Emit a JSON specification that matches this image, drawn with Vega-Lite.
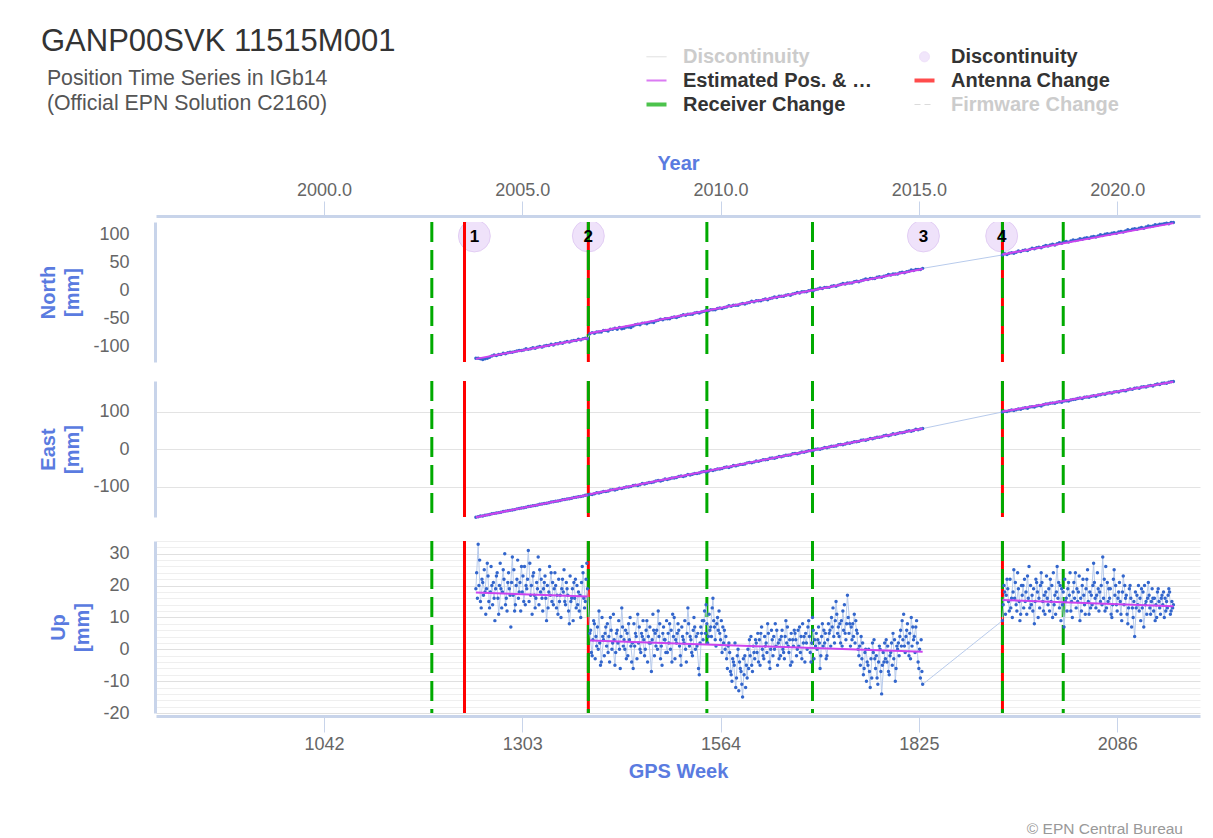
{
  "$schema": "https://vega.github.io/schema/vega-lite/v6.json",
  "autosize": {"type": "pad"},
  "padding": {"left": 38, "top": 25, "right": 13, "bottom": 2},
  "background": "white",
  "title": {
    "text": "GANP00SVK 11515M001",
    "subtitle": ["\u200b\u00a0Position Time Series in IGb14", "\u200b\u00a0(Official EPN Solution C2160)"],
    "anchor": "start", "frame": "bounds",
    "font": "Liberation Sans", "fontSize": 31, "fontWeight": "normal", "color": "#333333",
    "subtitleFont": "Liberation Sans", "subtitleFontSize": 21.3, "subtitleColor": "#555555",
    "subtitlePadding": 10, "subtitleLineHeight": 25,
    "offset": 0, "dx": 2, "dy": 69
  },
  "datasets": {
    "d": [
      {"w":1242,"n":-122,"e":-180,"u":19},{"w":1245,"n":-122,"e":-179,"u":33},{"w":1248,"n":-123,"e":-177,"u":15},{"w":1251,"n":-124,"e":-177,"u":21},{"w":1254,"n":-123,"e":-175,"u":18},
      {"w":1257,"n":-122,"e":-174,"u":27},{"w":1260,"n":-120,"e":-173,"u":13},{"w":1263,"n":-118,"e":-171,"u":20},{"w":1266,"n":-116,"e":-170,"u":16},{"w":1269,"n":-117,"e":-169,"u":23},
      {"w":1272,"n":-115,"e":-168,"u":11},{"w":1275,"n":-115,"e":-167,"u":19},{"w":1278,"n":-113,"e":-165,"u":25},{"w":1281,"n":-114,"e":-164,"u":14},{"w":1284,"n":-112,"e":-163,"u":21},
      {"w":1287,"n":-111,"e":-162,"u":17},{"w":1290,"n":-111,"e":-161,"u":29},{"w":1293,"n":-110,"e":-160,"u":12},{"w":1296,"n":-109,"e":-158,"u":22},{"w":1299,"n":-108,"e":-157,"u":18},
      {"w":1302,"n":-108,"e":-156,"u":26},{"w":1305,"n":-107,"e":-155,"u":15},{"w":1308,"n":-105,"e":-154,"u":20},{"w":1311,"n":-106,"e":-152,"u":31},{"w":1314,"n":-105,"e":-151,"u":17},
      {"w":1317,"n":-103,"e":-150,"u":23},{"w":1320,"n":-104,"e":-149,"u":13},{"w":1323,"n":-102,"e":-148,"u":19},{"w":1326,"n":-101,"e":-146,"u":25},{"w":1329,"n":-102,"e":-145,"u":16},
      {"w":1332,"n":-100,"e":-144,"u":21},{"w":1335,"n":-99,"e":-143,"u":9},{"w":1338,"n":-99,"e":-142,"u":18},{"w":1341,"n":-97,"e":-140,"u":24},{"w":1344,"n":-98,"e":-139,"u":14},
      {"w":1347,"n":-96,"e":-138,"u":20},{"w":1350,"n":-96,"e":-137,"u":11},{"w":1353,"n":-94,"e":-136,"u":17},{"w":1356,"n":-95,"e":-134,"u":22},{"w":1359,"n":-93,"e":-133,"u":15},
      {"w":1362,"n":-92,"e":-132,"u":19},{"w":1365,"n":-93,"e":-131,"u":8},{"w":1368,"n":-91,"e":-130,"u":16},{"w":1371,"n":-90,"e":-128,"u":21},{"w":1374,"n":-90,"e":-127,"u":13},
      {"w":1377,"n":-88,"e":-126,"u":18},{"w":1380,"n":-89,"e":-125,"u":10},{"w":1383,"n":-87,"e":-124,"u":24},{"w":1386,"n":-86,"e":-122,"u":15},{"w":1389,"n":-87,"e":-121,"u":19},
      {"w":1392,"n":-78,"e":-119,"u":5},{"w":1395,"n":-76,"e":-120,"u":-2},{"w":1398,"n":-77,"e":-118,"u":8},{"w":1401,"n":-75,"e":-115,"u":1},{"w":1404,"n":-75,"e":-116,"u":12},
      {"w":1407,"n":-75,"e":-114,"u":-4},{"w":1410,"n":-72,"e":-112,"u":3},{"w":1413,"n":-72,"e":-112,"u":7},{"w":1416,"n":-73,"e":-111,"u":-1},{"w":1419,"n":-70,"e":-108,"u":10},
      {"w":1422,"n":-70,"e":-107,"u":2},{"w":1425,"n":-68,"e":-108,"u":-5},{"w":1428,"n":-70,"e":-106,"u":6},{"w":1431,"n":-67,"e":-103,"u":0},{"w":1434,"n":-69,"e":-104,"u":13},
      {"w":1437,"n":-68,"e":-102,"u":3},{"w":1440,"n":-66,"e":-100,"u":-3},{"w":1443,"n":-66,"e":-100,"u":8},{"w":1446,"n":-67,"e":-99,"u":1},{"w":1449,"n":-64,"e":-96,"u":-6},
      {"w":1452,"n":-62,"e":-95,"u":5},{"w":1455,"n":-61,"e":-96,"u":11},{"w":1458,"n":-62,"e":-94,"u":0},{"w":1461,"n":-59,"e":-91,"u":4},{"w":1464,"n":-59,"e":-92,"u":-2},
      {"w":1467,"n":-60,"e":-90,"u":9},{"w":1470,"n":-58,"e":-88,"u":2},{"w":1473,"n":-57,"e":-88,"u":-7},{"w":1476,"n":-58,"e":-87,"u":6},{"w":1479,"n":-55,"e":-84,"u":1},
      {"w":1482,"n":-54,"e":-83,"u":12},{"w":1485,"n":-52,"e":-84,"u":-3},{"w":1488,"n":-53,"e":-82,"u":5},{"w":1491,"n":-51,"e":-79,"u":3},{"w":1494,"n":-51,"e":-80,"u":-1},
      {"w":1497,"n":-51,"e":-78,"u":8},{"w":1500,"n":-49,"e":-76,"u":-4},{"w":1503,"n":-48,"e":-76,"u":10},{"w":1506,"n":-49,"e":-75,"u":2},{"w":1509,"n":-47,"e":-72,"u":6},
      {"w":1512,"n":-46,"e":-71,"u":-5},{"w":1515,"n":-44,"e":-72,"u":3},{"w":1518,"n":-45,"e":-70,"u":0},{"w":1521,"n":-43,"e":-67,"u":13},{"w":1524,"n":-43,"e":-68,"u":4},
      {"w":1527,"n":-43,"e":-66,"u":-2},{"w":1530,"n":-41,"e":-64,"u":7},{"w":1533,"n":-40,"e":-64,"u":1},{"w":1536,"n":-41,"e":-63,"u":-8},{"w":1539,"n":-39,"e":-60,"u":5},
      {"w":1542,"n":-38,"e":-59,"u":9},{"w":1545,"n":-36,"e":-60,"u":14},{"w":1548,"n":-37,"e":-58,"u":4},{"w":1551,"n":-35,"e":-55,"u":7},{"w":1554,"n":-35,"e":-56,"u":16},
      {"w":1557,"n":-35,"e":-54,"u":3},{"w":1560,"n":-33,"e":-52,"u":10},{"w":1563,"n":-32,"e":-52,"u":5},{"w":1566,"n":-33,"e":-51,"u":-1},{"w":1569,"n":-31,"e":-48,"u":6},
      {"w":1572,"n":-30,"e":-47,"u":-3},{"w":1575,"n":-28,"e":-48,"u":2},{"w":1578,"n":-29,"e":-46,"u":-8},{"w":1581,"n":-27,"e":-43,"u":-4},{"w":1584,"n":-27,"e":-44,"u":-12},
      {"w":1587,"n":-27,"e":-42,"u":0},{"w":1590,"n":-25,"e":-40,"u":-6},{"w":1593,"n":-24,"e":-40,"u":-15},{"w":1596,"n":-25,"e":-39,"u":-2},{"w":1599,"n":-23,"e":-36,"u":-9},
      {"w":1602,"n":-22,"e":-35,"u":3},{"w":1605,"n":-20,"e":-36,"u":-5},{"w":1608,"n":-21,"e":-34,"u":-1},{"w":1611,"n":-19,"e":-31,"u":2},{"w":1614,"n":-19,"e":-32,"u":-4},
      {"w":1617,"n":-19,"e":-30,"u":5},{"w":1620,"n":-17,"e":-28,"u":-2},{"w":1623,"n":-16,"e":-28,"u":1},{"w":1626,"n":-17,"e":-27,"u":8},{"w":1629,"n":-15,"e":-24,"u":-6},
      {"w":1632,"n":-14,"e":-23,"u":3},{"w":1635,"n":-12,"e":-24,"u":0},{"w":1638,"n":-13,"e":-22,"u":6},{"w":1641,"n":-11,"e":-19,"u":-3},{"w":1644,"n":-11,"e":-20,"u":4},
      {"w":1647,"n":-11,"e":-18,"u":-1},{"w":1650,"n":-9,"e":-16,"u":9},{"w":1653,"n":-8,"e":-16,"u":1},{"w":1656,"n":-9,"e":-15,"u":-5},{"w":1659,"n":-7,"e":-12,"u":3},
      {"w":1662,"n":-6,"e":-11,"u":5},{"w":1665,"n":-4,"e":-12,"u":0},{"w":1668,"n":-5,"e":-10,"u":7},{"w":1671,"n":-3,"e":-7,"u":-3},{"w":1674,"n":-3,"e":-8,"u":4},
      {"w":1677,"n":-3,"e":-6,"u":2},{"w":1680,"n":-1,"e":-4,"u":9},{"w":1683,"n":0,"e":-4,"u":-4},{"w":1686,"n":-1,"e":-3,"u":6},{"w":1689,"n":1,"e":0,"u":1},
      {"w":1692,"n":2,"e":1,"u":3},{"w":1695,"n":4,"e":0,"u":-6},{"w":1698,"n":3,"e":2,"u":8},{"w":1701,"n":5,"e":5,"u":2},{"w":1704,"n":5,"e":4,"u":-2},
      {"w":1707,"n":5,"e":6,"u":5},{"w":1710,"n":7,"e":8,"u":10},{"w":1713,"n":8,"e":8,"u":4},{"w":1716,"n":7,"e":9,"u":15},{"w":1719,"n":9,"e":12,"u":7},
      {"w":1722,"n":10,"e":13,"u":2},{"w":1725,"n":12,"e":12,"u":12},{"w":1728,"n":11,"e":14,"u":5},{"w":1731,"n":13,"e":17,"u":17},{"w":1734,"n":13,"e":16,"u":8},
      {"w":1737,"n":13,"e":18,"u":3},{"w":1740,"n":15,"e":20,"u":11},{"w":1743,"n":16,"e":20,"u":6},{"w":1746,"n":15,"e":21,"u":-2},{"w":1749,"n":17,"e":24,"u":4},
      {"w":1752,"n":18,"e":25,"u":-8},{"w":1755,"n":20,"e":24,"u":0},{"w":1758,"n":19,"e":26,"u":-5},{"w":1761,"n":21,"e":29,"u":-12},{"w":1764,"n":21,"e":28,"u":2},
      {"w":1767,"n":21,"e":30,"u":-3},{"w":1770,"n":23,"e":32,"u":-9},{"w":1773,"n":24,"e":32,"u":1},{"w":1776,"n":23,"e":33,"u":-14},{"w":1779,"n":25,"e":36,"u":-4},
      {"w":1782,"n":26,"e":37,"u":3},{"w":1785,"n":28,"e":36,"u":-7},{"w":1788,"n":27,"e":38,"u":-1},{"w":1791,"n":29,"e":41,"u":5},{"w":1794,"n":29,"e":40,"u":-10},
      {"w":1797,"n":29,"e":42,"u":0},{"w":1800,"n":31,"e":44,"u":4},{"w":1803,"n":32,"e":44,"u":9},{"w":1806,"n":31,"e":45,"u":1},{"w":1809,"n":33,"e":48,"u":6},
      {"w":1812,"n":34,"e":49,"u":-2},{"w":1815,"n":36,"e":48,"u":10},{"w":1818,"n":35,"e":50,"u":3},{"w":1821,"n":37,"e":53,"u":7},{"w":1824,"n":37,"e":52,"u":-4},
      {"w":1827,"n":37,"e":54,"u":-9},{"w":1830,"n":39,"e":55,"u":-11},
      {"w":1935,"n":63,"e":99,"u":9},{"w":1938,"n":65,"e":101,"u":18},{"w":1941,"n":64,"e":100,"u":22},{"w":1944,"n":66,"e":102,"u":12},{"w":1947,"n":67,"e":104,"u":16},
      {"w":1950,"n":66,"e":103,"u":25},{"w":1953,"n":68,"e":105,"u":14},{"w":1956,"n":70,"e":107,"u":19},{"w":1959,"n":69,"e":106,"u":11},{"w":1962,"n":71,"e":109,"u":20},
      {"w":1965,"n":72,"e":110,"u":15},{"w":1968,"n":71,"e":109,"u":23},{"w":1971,"n":73,"e":112,"u":13},{"w":1974,"n":75,"e":113,"u":17},{"w":1977,"n":74,"e":112,"u":8},
      {"w":1980,"n":76,"e":115,"u":21},{"w":1983,"n":77,"e":116,"u":16},{"w":1986,"n":76,"e":115,"u":24},{"w":1989,"n":78,"e":118,"u":12},{"w":1992,"n":80,"e":120,"u":18},
      {"w":1995,"n":79,"e":120,"u":14},{"w":1998,"n":81,"e":122,"u":22},{"w":2001,"n":82,"e":123,"u":10},{"w":2004,"n":81,"e":122,"u":17},{"w":2007,"n":83,"e":125,"u":26},
      {"w":2010,"n":85,"e":126,"u":13},{"w":2013,"n":84,"e":125,"u":19},{"w":2016,"n":86,"e":128,"u":7},{"w":2019,"n":87,"e":129,"u":16},{"w":2022,"n":86,"e":128,"u":21},
      {"w":2025,"n":88,"e":131,"u":12},{"w":2028,"n":90,"e":132,"u":18},{"w":2031,"n":89,"e":133,"u":24},{"w":2034,"n":90,"e":135,"u":15},{"w":2037,"n":92,"e":136,"u":9},
      {"w":2040,"n":91,"e":135,"u":20},{"w":2043,"n":93,"e":138,"u":14},{"w":2046,"n":94,"e":139,"u":22},{"w":2049,"n":93,"e":138,"u":11},{"w":2052,"n":95,"e":141,"u":17},
      {"w":2055,"n":96,"e":142,"u":27},{"w":2058,"n":95,"e":141,"u":13},{"w":2061,"n":97,"e":144,"u":19},{"w":2064,"n":99,"e":145,"u":15},{"w":2067,"n":98,"e":147,"u":29},
      {"w":2070,"n":100,"e":146,"u":12},{"w":2073,"n":101,"e":149,"u":21},{"w":2076,"n":100,"e":150,"u":16},{"w":2079,"n":102,"e":149,"u":10},{"w":2082,"n":103,"e":152,"u":25},
      {"w":2085,"n":102,"e":153,"u":14},{"w":2088,"n":104,"e":152,"u":18},{"w":2091,"n":105,"e":155,"u":11},{"w":2094,"n":104,"e":156,"u":23},{"w":2097,"n":106,"e":155,"u":16},
      {"w":2100,"n":108,"e":158,"u":8},{"w":2103,"n":107,"e":160,"u":20},{"w":2106,"n":109,"e":159,"u":13},{"w":2109,"n":110,"e":162,"u":4},{"w":2112,"n":109,"e":163,"u":17},
      {"w":2115,"n":111,"e":162,"u":12},{"w":2118,"n":112,"e":165,"u":19},{"w":2121,"n":111,"e":166,"u":7},{"w":2124,"n":113,"e":165,"u":15},{"w":2127,"n":115,"e":168,"u":21},
      {"w":2130,"n":114,"e":169,"u":11},{"w":2133,"n":115,"e":168,"u":16},{"w":2136,"n":117,"e":171,"u":9},{"w":2139,"n":116,"e":173,"u":18},{"w":2142,"n":118,"e":172,"u":13},
      {"w":2145,"n":118,"e":175,"u":17},{"w":2148,"n":119,"e":176,"u":10},{"w":2151,"n":120,"e":175,"u":15},{"w":2154,"n":119,"e":178,"u":19},{"w":2157,"n":121,"e":179,"u":12},
      {"w":2160,"n":121,"e":180,"u":14}
    ],
    "u2": [
      {"w":1243,"u":24},{"w":1244,"u":16},{"w":1246,"u":20},{"w":1247,"u":28},{"w":1249,"u":13},{"w":1250,"u":22},{"w":1252,"u":17},{"w":1253,"u":25},{"w":1255,"u":11},{"w":1256,"u":19},
      {"w":1258,"u":23},{"w":1259,"u":15},{"w":1261,"u":18},{"w":1262,"u":26},{"w":1264,"u":14},{"w":1265,"u":21},{"w":1267,"u":9},{"w":1268,"u":19},{"w":1270,"u":24},{"w":1271,"u":16},
      {"w":1273,"u":20},{"w":1274,"u":27},{"w":1276,"u":13},{"w":1277,"u":18},{"w":1279,"u":22},{"w":1280,"u":30},{"w":1282,"u":16},{"w":1283,"u":12},{"w":1285,"u":24},{"w":1286,"u":19},
      {"w":1288,"u":7},{"w":1289,"u":21},{"w":1291,"u":17},{"w":1292,"u":25},{"w":1294,"u":14},{"w":1295,"u":20},{"w":1297,"u":28},{"w":1298,"u":16},{"w":1300,"u":21},{"w":1301,"u":12},
      {"w":1303,"u":18},{"w":1304,"u":23},{"w":1306,"u":26},{"w":1307,"u":14},{"w":1309,"u":19},{"w":1310,"u":22},{"w":1312,"u":15},{"w":1313,"u":27},{"w":1315,"u":20},{"w":1316,"u":11},
      {"w":1318,"u":24},{"w":1319,"u":17},{"w":1321,"u":16},{"w":1322,"u":21},{"w":1324,"u":29},{"w":1325,"u":14},{"w":1327,"u":18},{"w":1328,"u":22},{"w":1330,"u":12},{"w":1331,"u":19},
      {"w":1333,"u":23},{"w":1334,"u":16},{"w":1336,"u":20},{"w":1337,"u":13},{"w":1339,"u":26},{"w":1340,"u":17},{"w":1342,"u":15},{"w":1343,"u":21},{"w":1345,"u":19},{"w":1346,"u":24},
      {"w":1348,"u":13},{"w":1349,"u":17},{"w":1351,"u":22},{"w":1352,"u":15},{"w":1354,"u":10},{"w":1355,"u":19},{"w":1357,"u":18},{"w":1358,"u":25},{"w":1360,"u":14},{"w":1361,"u":21},
      {"w":1363,"u":17},{"w":1364,"u":12},{"w":1366,"u":23},{"w":1367,"u":15},{"w":1369,"u":19},{"w":1370,"u":9},{"w":1372,"u":16},{"w":1373,"u":22},{"w":1375,"u":20},{"w":1376,"u":14},
      {"w":1378,"u":12},{"w":1379,"u":17},{"w":1381,"u":21},{"w":1382,"u":26},{"w":1384,"u":16},{"w":1385,"u":13},{"w":1387,"u":22},{"w":1388,"u":27},
      {"w":1393,"u":6},{"w":1394,"u":-1},{"w":1396,"u":3},{"w":1397,"u":9},{"w":1399,"u":-3},{"w":1400,"u":4},{"w":1402,"u":7},{"w":1403,"u":0},{"w":1405,"u":2},{"w":1406,"u":-5},
      {"w":1408,"u":10},{"w":1409,"u":4},{"w":1411,"u":-2},{"w":1412,"u":5},{"w":1414,"u":1},{"w":1415,"u":8},{"w":1417,"u":4},{"w":1418,"u":-4},{"w":1420,"u":6},{"w":1421,"u":0},
      {"w":1423,"u":11},{"w":1424,"u":3},{"w":1426,"u":-1},{"w":1427,"u":5},{"w":1429,"u":2},{"w":1430,"u":9},{"w":1432,"u":-6},{"w":1433,"u":4},{"w":1435,"u":7},{"w":1436,"u":1},
      {"w":1438,"u":0},{"w":1439,"u":6},{"w":1441,"u":5},{"w":1442,"u":-2},{"w":1444,"u":3},{"w":1445,"u":10},{"w":1447,"u":-4},{"w":1448,"u":2},{"w":1450,"u":8},{"w":1451,"u":1},
      {"w":1453,"u":4},{"w":1454,"u":-3},{"w":1456,"u":2},{"w":1457,"u":7},{"w":1459,"u":-1},{"w":1460,"u":5},{"w":1462,"u":9},{"w":1463,"u":3},{"w":1465,"u":0},{"w":1466,"u":6},
      {"w":1468,"u":-4},{"w":1469,"u":4},{"w":1471,"u":7},{"w":1472,"u":2},{"w":1474,"u":3},{"w":1475,"u":11},{"w":1477,"u":-2},{"w":1478,"u":5},{"w":1480,"u":6},{"w":1481,"u":0},
      {"w":1483,"u":4},{"w":1484,"u":8},{"w":1486,"u":1},{"w":1487,"u":-5},{"w":1489,"u":7},{"w":1490,"u":3},{"w":1492,"u":-1},{"w":1493,"u":9},{"w":1495,"u":5},{"w":1496,"u":2},
      {"w":1498,"u":0},{"w":1499,"u":6},{"w":1501,"u":11},{"w":1502,"u":4},{"w":1504,"u":-3},{"w":1505,"u":3},{"w":1507,"u":5},{"w":1508,"u":8},{"w":1510,"u":1},{"w":1511,"u":-2},
      {"w":1513,"u":7},{"w":1514,"u":4},{"w":1516,"u":2},{"w":1517,"u":9},{"w":1519,"u":-4},{"w":1520,"u":5},{"w":1522,"u":8},{"w":1523,"u":1},{"w":1525,"u":3},{"w":1526,"u":-1},
      {"w":1528,"u":6},{"w":1529,"u":10},{"w":1531,"u":0},{"w":1532,"u":4},{"w":1534,"u":5},{"w":1535,"u":-6},{"w":1537,"u":2},{"w":1538,"u":7},{"w":1540,"u":9},{"w":1541,"u":3},
      {"w":1543,"u":12},{"w":1544,"u":5},{"w":1546,"u":8},{"w":1547,"u":2},{"w":1549,"u":11},{"w":1550,"u":6},{"w":1552,"u":4},{"w":1553,"u":13},{"w":1555,"u":9},{"w":1556,"u":7},
      {"w":1558,"u":1},{"w":1559,"u":8},{"w":1561,"u":6},{"w":1562,"u":12},{"w":1564,"u":3},{"w":1565,"u":9},{"w":1567,"u":7},{"w":1568,"u":2},{"w":1570,"u":0},{"w":1571,"u":4},
      {"w":1573,"u":-6},{"w":1574,"u":1},{"w":1576,"u":-1},{"w":1577,"u":-7},{"w":1579,"u":-10},{"w":1580,"u":-3},{"w":1582,"u":-5},{"w":1583,"u":2},{"w":1585,"u":-9},{"w":1586,"u":-2},
      {"w":1588,"u":-13},{"w":1589,"u":-4},{"w":1591,"u":-7},{"w":1592,"u":-11},{"w":1594,"u":-3},{"w":1595,"u":-8},{"w":1597,"u":-12},{"w":1598,"u":-5},{"w":1600,"u":0},{"w":1601,"u":-6},
      {"w":1603,"u":-2},{"w":1604,"u":4},{"w":1606,"u":-7},{"w":1607,"u":1},{"w":1609,"u":-3},{"w":1610,"u":3},{"w":1612,"u":-1},{"w":1613,"u":5},{"w":1615,"u":3},{"w":1616,"u":-5},
      {"w":1618,"u":7},{"w":1619,"u":0},{"w":1621,"u":-3},{"w":1622,"u":4},{"w":1624,"u":2},{"w":1625,"u":-1},{"w":1627,"u":5},{"w":1628,"u":-4},{"w":1630,"u":0},{"w":1631,"u":6},
      {"w":1633,"u":-2},{"w":1634,"u":4},{"w":1636,"u":8},{"w":1637,"u":1},{"w":1639,"u":-5},{"w":1640,"u":2},{"w":1642,"u":3},{"w":1643,"u":-2},{"w":1645,"u":6},{"w":1646,"u":0},
      {"w":1648,"u":-3},{"w":1649,"u":4},{"w":1651,"u":2},{"w":1652,"u":7},{"w":1654,"u":-1},{"w":1655,"u":3},{"w":1657,"u":5},{"w":1658,"u":-4},{"w":1660,"u":1},{"w":1661,"u":6},
      {"w":1663,"u":3},{"w":1664,"u":-2},{"w":1666,"u":6},{"w":1667,"u":1},{"w":1669,"u":-1},{"w":1670,"u":4},{"w":1672,"u":8},{"w":1673,"u":2},{"w":1675,"u":-4},{"w":1676,"u":5},
      {"w":1678,"u":0},{"w":1679,"u":7},{"w":1681,"u":4},{"w":1682,"u":-1},{"w":1684,"u":2},{"w":1685,"u":10},{"w":1687,"u":-3},{"w":1688,"u":3},{"w":1690,"u":5},{"w":1691,"u":0},
      {"w":1693,"u":7},{"w":1694,"u":2},{"w":1696,"u":-2},{"w":1697,"u":4},{"w":1699,"u":1},{"w":1700,"u":6},{"w":1702,"u":5},{"w":1703,"u":-3},{"w":1705,"u":3},{"w":1706,"u":8},
      {"w":1708,"u":6},{"w":1709,"u":1},{"w":1711,"u":7},{"w":1712,"u":13},{"w":1714,"u":2},{"w":1715,"u":9},{"w":1717,"u":11},{"w":1718,"u":5},{"w":1720,"u":4},{"w":1721,"u":8},
      {"w":1723,"u":9},{"w":1724,"u":1},{"w":1726,"u":6},{"w":1727,"u":14},{"w":1729,"u":3},{"w":1730,"u":8},{"w":1732,"u":10},{"w":1733,"u":5},{"w":1735,"u":1},{"w":1736,"u":7},
      {"w":1738,"u":8},{"w":1739,"u":4},{"w":1741,"u":2},{"w":1742,"u":9},{"w":1744,"u":5},{"w":1745,"u":0},{"w":1747,"u":1},{"w":1748,"u":-5},{"w":1750,"u":-3},{"w":1751,"u":2},
      {"w":1753,"u":-6},{"w":1754,"u":-1},{"w":1756,"u":-10},{"w":1757,"u":-4},{"w":1759,"u":0},{"w":1760,"u":-7},{"w":1762,"u":-3},{"w":1763,"u":-9},{"w":1765,"u":-1},{"w":1766,"u":3},
      {"w":1768,"u":-6},{"w":1769,"u":-2},{"w":1771,"u":-11},{"w":1772,"u":-4},{"w":1774,"u":0},{"w":1775,"u":-7},{"w":1777,"u":-5},{"w":1778,"u":-1},{"w":1780,"u":2},{"w":1781,"u":-3},
      {"w":1783,"u":-4},{"w":1784,"u":1},{"w":1786,"u":-8},{"w":1787,"u":-2},{"w":1789,"u":2},{"w":1790,"u":-5},{"w":1792,"u":-3},{"w":1793,"u":3},{"w":1795,"u":-6},{"w":1796,"u":1},
      {"w":1798,"u":2},{"w":1799,"u":-2},{"w":1801,"u":6},{"w":1802,"u":1},{"w":1804,"u":3},{"w":1805,"u":11},{"w":1807,"u":-1},{"w":1808,"u":4},{"w":1810,"u":8},{"w":1811,"u":2},
      {"w":1813,"u":5},{"w":1814,"u":-3},{"w":1816,"u":1},{"w":1817,"u":7},{"w":1819,"u":4},{"w":1820,"u":-1},{"w":1822,"u":9},{"w":1823,"u":2},{"w":1825,"u":-6},{"w":1826,"u":0},
      {"w":1828,"u":3},{"w":1829,"u":-7},
      {"w":1936,"u":14},{"w":1937,"u":20},{"w":1939,"u":11},{"w":1940,"u":17},{"w":1942,"u":19},{"w":1943,"u":15},{"w":1945,"u":22},{"w":1946,"u":13},{"w":1948,"u":10},{"w":1949,"u":18},
      {"w":1951,"u":16},{"w":1952,"u":21},{"w":1954,"u":12},{"w":1955,"u":24},{"w":1957,"u":15},{"w":1958,"u":9},{"w":1960,"u":20},{"w":1961,"u":17},{"w":1963,"u":13},{"w":1964,"u":22},
      {"w":1966,"u":18},{"w":1967,"u":11},{"w":1969,"u":16},{"w":1970,"u":26},{"w":1972,"u":20},{"w":1973,"u":14},{"w":1975,"u":12},{"w":1976,"u":19},{"w":1978,"u":15},{"w":1979,"u":22},
      {"w":1981,"u":18},{"w":1982,"u":10},{"w":1984,"u":13},{"w":1985,"u":20},{"w":1987,"u":21},{"w":1988,"u":15},{"w":1990,"u":17},{"w":1991,"u":11},{"w":1993,"u":23},{"w":1994,"u":16},
      {"w":1996,"u":19},{"w":1997,"u":12},{"w":1999,"u":15},{"w":2000,"u":20},{"w":2002,"u":24},{"w":2003,"u":14},{"w":2005,"u":11},{"w":2006,"u":18},{"w":2008,"u":16},{"w":2009,"u":21},
      {"w":2011,"u":20},{"w":2012,"u":9},{"w":2014,"u":14},{"w":2015,"u":18},{"w":2017,"u":22},{"w":2018,"u":15},{"w":2020,"u":12},{"w":2021,"u":19},{"w":2023,"u":17},{"w":2024,"u":24},
      {"w":2026,"u":15},{"w":2027,"u":10},{"w":2029,"u":21},{"w":2030,"u":16},{"w":2032,"u":13},{"w":2033,"u":19},{"w":2035,"u":18},{"w":2036,"u":23},{"w":2038,"u":16},{"w":2039,"u":12},
      {"w":2041,"u":22},{"w":2042,"u":17},{"w":2044,"u":11},{"w":2045,"u":19},{"w":2047,"u":25},{"w":2048,"u":15},{"w":2050,"u":18},{"w":2051,"u":13},{"w":2053,"u":14},{"w":2054,"u":20},
      {"w":2056,"u":21},{"w":2057,"u":16},{"w":2059,"u":17},{"w":2060,"u":24},{"w":2062,"u":12},{"w":2063,"u":18},{"w":2065,"u":20},{"w":2066,"u":14},{"w":2068,"u":16},{"w":2069,"u":22},
      {"w":2071,"u":26},{"w":2072,"u":13},{"w":2074,"u":15},{"w":2075,"u":19},{"w":2077,"u":19},{"w":2078,"u":11},{"w":2080,"u":14},{"w":2081,"u":22},{"w":2083,"u":17},{"w":2084,"u":20},
      {"w":2086,"u":12},{"w":2087,"u":16},{"w":2089,"u":21},{"w":2090,"u":15},{"w":2092,"u":9},{"w":2093,"u":18},{"w":2095,"u":14},{"w":2096,"u":20},{"w":2098,"u":17},{"w":2099,"u":11},
      {"w":2101,"u":13},{"w":2102,"u":19},{"w":2104,"u":16},{"w":2105,"u":7},{"w":2107,"u":10},{"w":2108,"u":15},{"w":2110,"u":18},{"w":2111,"u":13},{"w":2113,"u":14},{"w":2114,"u":20},
      {"w":2116,"u":16},{"w":2117,"u":9},{"w":2119,"u":13},{"w":2120,"u":18},{"w":2122,"u":20},{"w":2123,"u":14},{"w":2125,"u":11},{"w":2126,"u":16},{"w":2128,"u":17},{"w":2129,"u":13},
      {"w":2131,"u":15},{"w":2132,"u":19},{"w":2134,"u":12},{"w":2135,"u":16},{"w":2137,"u":14},{"w":2138,"u":10},{"w":2140,"u":19},{"w":2141,"u":15},{"w":2143,"u":11},{"w":2144,"u":16},
      {"w":2146,"u":14},{"w":2147,"u":18},{"w":2149,"u":16},{"w":2150,"u":12},{"w":2152,"u":13},{"w":2153,"u":17},{"w":2155,"u":18},{"w":2156,"u":11},{"w":2158,"u":15},{"w":2159,"u":13}
    ],
    "fit": [
      {"s":1,"w":1242,"n":-123,"e":-180,"u":17.8},{"s":1,"w":1389,"n":-86,"e":-121,"u":16.6},
      {"s":2,"w":1392,"n":-77,"e":-119,"u":2.8},{"s":2,"w":1830,"n":38,"e":55,"u":-0.8},
      {"s":3,"w":1935,"n":64,"e":100,"u":15.5},{"s":3,"w":2160,"n":120,"e":179,"u":13.5}
    ],
    "chg": [
      {"w":1184,"t":"R"},{"w":1227,"t":"A"},{"w":1390,"t":"A"},{"w":1390,"t":"R"},{"w":1546,"t":"R"},
      {"w":1685,"t":"R"},{"w":1935,"t":"A"},{"w":1935,"t":"R"},{"w":2015,"t":"R"}
    ],
    "disc": [
      {"w":1240,"lab":"1"},{"w":1390,"lab":"2"},{"w":1831,"lab":"3"},{"w":1934,"lab":"4"}
    ],
    "leg": [{"k":"L1"},{"k":"L2"},{"k":"L3"},{"k":"L4"},{"k":"L5"},{"k":"L6"}]
  },
  "spacing": 10,
  "resolve": {
    "scale": {"x": "independent", "y": "independent", "color": "independent"},
    "axis": {"x": "independent", "y": "independent"},
    "legend": {"color": "independent"}
  },
  "vconcat": [
    {
      "width": 1044, "height": 140,
      "encoding": {
        "x": {"field": "w", "type": "quantitative", "scale": {"domain": [821, 2195], "nice": false, "zero": false},
          "axis": {"orient": "top", "values": [1042, 1303, 1564, 1825, 2086], "tickCount": 50, "labelExpr": "format(2000 + (datum.value - 1042) / 52.2, '.1f')", "title": "Year", "grid": false, "offset": 6, "tickSize": 15, "labelPadding": 2, "titlePadding": 8, "labelFlush": false}}
      },
      "layer": [
        {"data": {"name": "disc"}, "mark": {"type": "point", "filled": true, "size": 1018, "fill": "#ecdcfa", "stroke": "#dcc2f2", "strokeWidth": 1, "opacity": 0.8, "clip": true},
          "encoding": {"y": {"datum": 97, "type": "quantitative", "scale": {"domain": [-128.6, 122], "nice": false, "zero": false}, "title": ["North", "[mm]"]}}},
        {"data": {"name": "chg"}, "transform": [{"filter": "datum.t === 'A'"}], "mark": {"type": "rule", "color": "#ff0000", "strokeWidth": 3}, "encoding": {}},
        {"data": {"name": "chg"}, "transform": [{"filter": "datum.t === 'R'"}], "mark": {"type": "rule", "color": "#00aa00", "strokeWidth": 3, "strokeDash": [20, 8]}, "encoding": {}},
        {"data": {"name": "d"}, "mark": {"type": "line", "color": "#b8cbec", "strokeWidth": 1},
          "encoding": {"y": {"field": "n", "type": "quantitative", "scale": {"domain": [-128.6, 122], "nice": false, "zero": false}, "title": ["North", "[mm]"],
            "axis": {"values": [-120,-110,-100,-90,-80,-70,-60,-50,-40,-30,-20,-10,0,10,20,30,40,50,60,70,80,90,100,110,120], "tickCount": 100, "labelExpr": "datum.value % 50 === 0 ? '' + datum.value : ''", "labelOverlap": false,
              "gridColor": {"condition": {"test": "datum.value % 50 === 0", "value": "#e0e0e0"}, "value": "#efefef"},
              "ticks": false, "labelPadding": 26, "titlePadding": 10, "offset": 1, "titleLineHeight": 24}}}},
        {"data": {"name": "d"}, "mark": {"type": "point", "filled": true, "size": 12, "color": "#3366cc", "opacity": 1},
          "encoding": {"y": {"field": "n", "type": "quantitative", "scale": {"domain": [-128.6, 122], "nice": false, "zero": false}, "title": ["North", "[mm]"]}}},
        {"data": {"name": "fit"}, "mark": {"type": "line", "color": "#cc44ee", "strokeWidth": 2},
          "encoding": {"y": {"field": "n", "type": "quantitative", "scale": {"domain": [-128.6, 122], "nice": false, "zero": false}, "title": ["North", "[mm]"]}, "detail": {"field": "s"}}},
        {"data": {"name": "disc"}, "mark": {"type": "text", "fontSize": 17, "fontWeight": "bold", "color": "#000000", "font": "Liberation Sans", "dy": 1},
          "encoding": {"y": {"datum": 97, "type": "quantitative", "scale": {"domain": [-128.6, 122], "nice": false, "zero": false}, "title": ["North", "[mm]"]}, "text": {"field": "lab"}}},
        {"data": {"name": "leg"}, "transform": [{"filter": "false"}], "mark": {"type": "point"},
          "encoding": {"color": {"field": "k", "type": "nominal",
            "scale": {"domain": ["L1","L3","L5","L2","L4","L6"], "range": ["#cccccc","#cc44ee","#00aa00","#e8d3f8","#ff0000","#cccccc"]},
            "legend": {"title": null, "orient": "none", "legendX": 490, "legendY": -176, "columns": 2, "columnPadding": 34, "rowPadding": 3,
              "symbolType": "stroke", "symbolSize": 400, "symbolStrokeWidth": 3, "labelFontSize": 20, "labelFont": "Liberation Sans", "labelFontWeight": "bold",
              "labelColor": "#333333", "labelOffset": 16, "labelLimit": 300, "padding": 0,
              "labelExpr": "datum.value === 'L1' || datum.value === 'L2' ? 'Discontinuity' : datum.value === 'L3' ? 'Estimated Pos. & …' : datum.value === 'L4' ? 'Antenna Change' : datum.value === 'L5' ? 'Receiver Change' : 'Firmware Change'",
              "encoding": {
                "symbols": {
                  "shape": {"condition": {"test": "datum.value === 'L2'", "value": "M-0.5,0A0.5,0.5,0,1,1,0.5,0A0.5,0.5,0,1,1,-0.5,0Z"}, "value": "stroke"},
                  "strokeWidth": {"value": {"expr": "(datum.value === 'L3' ? 2 : (datum.value === 'L4' || datum.value === 'L5') ? 4 : 1)"}},
                  "strokeDash": {"condition": {"test": "datum.value === 'L6'", "value": [6, 4]}, "value": [1, 0]},
                  "fill": {"condition": {"test": "datum.value === 'L2'", "value": "#ecdcfa"}, "value": "transparent"},
                  "stroke": {"condition": [{"test": "datum.value === 'L2'", "value": "#dcc2f2"}, {"test": "datum.value === 'L3'", "value": "#cc44ee"}, {"test": "datum.value === 'L4'", "value": "#ff0000"}, {"test": "datum.value === 'L5'", "value": "#00aa00"}], "value": "#cccccc"}
                },
                "labels": {"fill": {"condition": {"test": "datum.value === 'L1' || datum.value === 'L6'", "value": "#cccccc"}, "value": "#333333"}}
              }}}}}
      ]
    },
    {
      "width": 1044, "height": 136,
      "encoding": {
        "x": {"field": "w", "type": "quantitative", "scale": {"domain": [821, 2195], "nice": false, "zero": false}, "axis": null}
      },
      "layer": [
        {"data": {"name": "chg"}, "transform": [{"filter": "datum.t === 'A'"}], "mark": {"type": "rule", "color": "#ff0000", "strokeWidth": 3}, "encoding": {}},
        {"data": {"name": "chg"}, "transform": [{"filter": "datum.t === 'R'"}], "mark": {"type": "rule", "color": "#00aa00", "strokeWidth": 3, "strokeDash": [20, 8]}, "encoding": {}},
        {"data": {"name": "d"}, "mark": {"type": "line", "color": "#b8cbec", "strokeWidth": 1},
          "encoding": {"y": {"field": "e", "type": "quantitative", "scale": {"domain": [-179.6, 181.2], "nice": false, "zero": false}, "title": ["East", "[mm]"],
            "axis": {"values": [-100, 0, 100], "tickCount": 100, "labelExpr": "'' + datum.value", "gridColor": "#e3e3e3", "ticks": false, "labelPadding": 26, "titlePadding": 10, "offset": 1, "titleLineHeight": 24}}}},
        {"data": {"name": "d"}, "mark": {"type": "point", "filled": true, "size": 12, "color": "#3366cc", "opacity": 1},
          "encoding": {"y": {"field": "e", "type": "quantitative", "scale": {"domain": [-179.6, 181.2], "nice": false, "zero": false}, "title": ["East", "[mm]"]}}},
        {"data": {"name": "fit"}, "mark": {"type": "line", "color": "#cc44ee", "strokeWidth": 2},
          "encoding": {"y": {"field": "e", "type": "quantitative", "scale": {"domain": [-179.6, 181.2], "nice": false, "zero": false}, "title": ["East", "[mm]"]}, "detail": {"field": "s"}}}
      ]
    },
    {
      "width": 1044, "height": 172,
      "title": {"text": "© EPN Central Bureau", "orient": "bottom", "anchor": "end", "frame": "group", "fontSize": 15.5, "fontWeight": "normal", "font": "Liberation Sans", "color": "#999999", "offset": 41, "dx": -17},
      "encoding": {
        "x": {"field": "w", "type": "quantitative", "scale": {"domain": [821, 2195], "nice": false, "zero": false},
          "axis": {"orient": "bottom", "values": [1042, 1303, 1564, 1825, 2086], "tickCount": 50, "title": "GPS Week", "grid": false, "offset": 3, "tickSize": 16, "labelPadding": 3, "titlePadding": 8, "labelFlush": false, "format": "d"}}
      },
      "layer": [
        {"data": {"name": "chg"}, "transform": [{"filter": "datum.t === 'A'"}], "mark": {"type": "rule", "color": "#ff0000", "strokeWidth": 3}, "encoding": {}},
        {"data": {"name": "chg"}, "transform": [{"filter": "datum.t === 'R'"}], "mark": {"type": "rule", "color": "#00aa00", "strokeWidth": 3, "strokeDash": [20, 8]}, "encoding": {}},
        {"data": {"name": "d"}, "mark": {"type": "line", "color": "#b8cbec", "strokeWidth": 1},
          "encoding": {"y": {"field": "u", "type": "quantitative", "scale": {"domain": [-20, 34], "nice": false, "zero": false}, "title": ["Up", "[mm]"],
            "axis": {"values": [-20,-18,-16,-14,-12,-10,-8,-6,-4,-2,0,2,4,6,8,10,12,14,16,18,20,22,24,26,28,30,32,34], "tickCount": 100, "labelExpr": "datum.value % 10 === 0 ? '' + datum.value : ''", "labelOverlap": false,
              "gridColor": {"condition": {"test": "datum.value % 10 === 0", "value": "#e0e0e0"}, "value": "#efefef"},
              "ticks": false, "labelPadding": 26, "titlePadding": 10, "offset": 1, "titleLineHeight": 24}}}},
        {"data": {"name": "u2"}, "mark": {"type": "point", "filled": true, "size": 12, "color": "#3366cc", "opacity": 1},
          "encoding": {"y": {"field": "u", "type": "quantitative", "scale": {"domain": [-20, 34], "nice": false, "zero": false}, "title": ["Up", "[mm]"]}}},
        {"data": {"name": "d"}, "mark": {"type": "point", "filled": true, "size": 12, "color": "#3366cc", "opacity": 1},
          "encoding": {"y": {"field": "u", "type": "quantitative", "scale": {"domain": [-20, 34], "nice": false, "zero": false}, "title": ["Up", "[mm]"]}}},
        {"data": {"name": "fit"}, "mark": {"type": "line", "color": "#cc44ee", "strokeWidth": 2},
          "encoding": {"y": {"field": "u", "type": "quantitative", "scale": {"domain": [-20, 34], "nice": false, "zero": false}, "title": ["Up", "[mm]"]}, "detail": {"field": "s"}}}
      ]
    }
  ],
  "config": {
    "font": "Liberation Sans",
    "view": {"stroke": null},
    "axis": {"labelFont": "Liberation Sans", "labelFontSize": 18, "labelColor": "#666666", "titleFont": "Liberation Sans", "titleFontSize": 20, "titleFontWeight": "bold", "titleColor": "#5a7be0", "domainColor": "#c8d4ea", "domainWidth": 3, "tickColor": "#c8d4ea", "tickWidth": 1, "gridColor": "#e6e6e6"}
  }
}
